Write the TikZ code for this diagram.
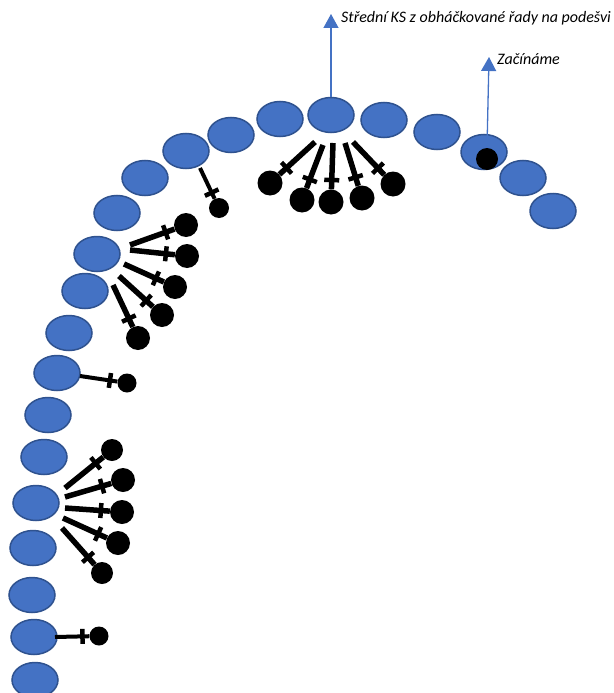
\documentclass[tikz,border=0pt]{standalone}
\usepackage{fontspec}
\setmainfont{Carlito}
\usetikzlibrary{shapes.geometric,arrows.meta,decorations.markings}
\definecolor{cellblue}{HTML}{4472C4}
\definecolor{cellrim}{HTML}{2F528F}

\tikzset{
    cell/.style={ellipse,draw=cellrim,fill=cellblue,line width=1.5pt,
        minimum width=46pt,minimum height=35pt,inner sep=0pt},
    disc/.style={circle,fill=black,inner sep=0pt,minimum size=#1},
    pinline/.style={line width=#1,postaction={decorate},
        decoration={markings,mark=at position 0.8 with
            {\draw[line width=4.5pt] (0,-7.5pt) -- (0,7.5pt);}}},
    uparrow/.style={draw=cellblue,line width=1.3pt,
        -{Triangle[width=15pt,length=14pt,fill=cellblue]}},
    note/.style={anchor=base west,inner sep=0pt,
        font=\itshape\fontsize{16}{19}\selectfont}
}

\begin{document}
\begin{tikzpicture}[x=1pt,y=-1pt]
    \useasboundingbox (0,0) rectangle (613,693);
    % row of stitches
    \foreach \n/\x/\y in {1/553/211,2/523/178,3/484/152,4/437/132,5/384/120,
        6/331/115,7/280/119,8/231/135,9/186/151,10/145/178,11/117/213,
        12/97/254,13/85/291,14/69/333,15/57/373,16/48/415,17/44/457,
        18/36/503,19/33/548,20/32/595,21/34/637,22/35/680}
        \node[cell] (e\n) at (\x,\y) {};
    % pins: start, disc centre, disc diameter, line width
    \foreach \n/\sx/\sy/\dx/\dy/\d/\w in {
        t1/315/142/270/183/25/5.5, t2/323/145/302/200/25/5.5, t3/333/143/331/202/25/5.5,
        t4/345/143/362/198/25/5.5, t5/353/142/393/184/25/5.5,
        a/200/168/219/208/20/4,
        l1/130/245/186/225/24/5.5, l2/130/250/187/256/24/5.5, l3/124/264/175/287/24/5.5,
        l4/119/276/162/315/24/5.5, l5/113/285/138/338/24/5.5,
        b/80/376/127/383/19/4,
        d1/65/488/112/450/22/5.5, d2/65/497/123/480/24/5.5, d3/65/508/122/512/24/5.5,
        d4/63/518/118/543/24/5.5, d5/62/528/102/573/22/5.5,
        c/55/637/99/636/19/4}
    {
        \node[disc=\d pt] (p\n) at (\dx,\dy) {};
        \coordinate (s\n) at (\sx,\sy);
        \draw[pinline=\w pt] (s\n) -- (p\n);
    }
    % start marker
    \node[disc=22pt] (start) at (487,159) {};
    % labels
    \coordinate (ksTip) at (331,14);
    \draw[uparrow] (e6.north) -- (ksTip);
    \node[note] (ks) at (341,23) {Střední KS z obháčkované řady na podešvi};
    \coordinate (startTip) at (489,57);
    \draw[uparrow] (start.north) -- (startTip);
    \node[note] (zac) at (497,65) {Začínáme};
\end{tikzpicture}
\end{document}
